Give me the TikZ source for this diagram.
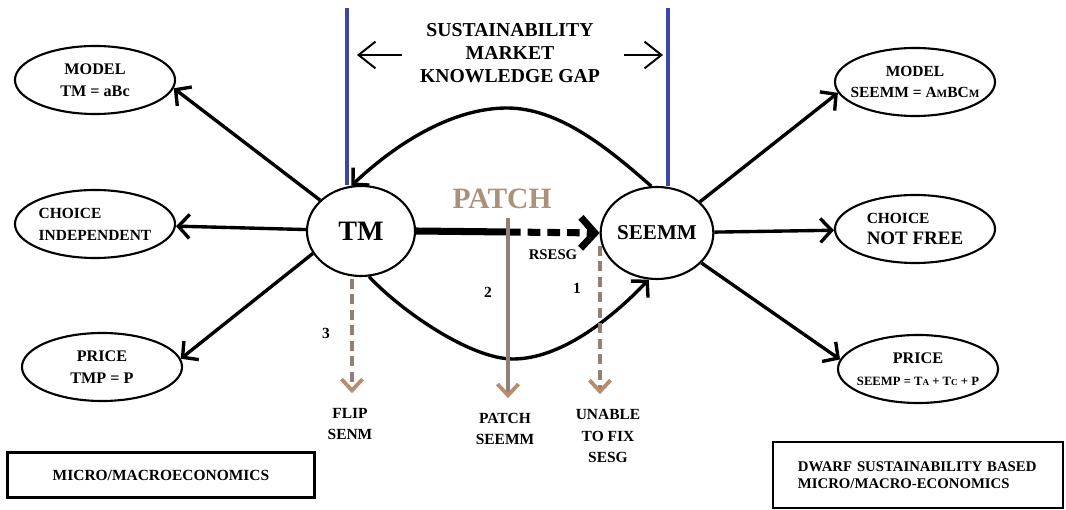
\documentclass[tikz,border=0pt]{standalone}
\usepackage{fontspec}
\setmainfont{Liberation Serif}
\usetikzlibrary{shapes.geometric,arrows.meta}
\definecolor{gapblue}{RGB}{60,70,170}
\definecolor{patchbrown}{RGB}{170,145,122}
\definecolor{linebrown}{RGB}{145,128,118}
\definecolor{tipbrown}{RGB}{185,140,110}
\tikzset{
  oval/.style={draw, ellipse, line width=1.5pt, inner xsep=-8pt, inner ysep=0pt,
    minimum width=4cm, minimum height=1.7cm, align=center,
    font=\bfseries\fontsize{11.5}{15.5}\selectfont},
  hub/.style={draw, ellipse, line width=1.5pt, inner sep=0pt,
    minimum width=2.7cm, minimum height=2.25cm},
  link/.style={line width=2.4pt, -{Straight Barb[length=8pt,width=17pt]}},
  flow/.style={line width=5pt, -{Straight Barb[length=10pt,width=22pt]}},
  probe/.style={linebrown, line width=2.7pt, shorten >=7pt,
    -{Straight Barb[length=8pt,width=15pt,color=tipbrown]}},
  gapline/.style={gapblue, line width=3.5pt},
  gaparrow/.style={line width=1.4pt, -{Straight Barb[length=12pt,width=19pt]}},
  lbl/.style={font=\bfseries\fontsize{11}{15.5}\selectfont, align=center},
  framebox/.style={draw, line width=1.5pt, font=\bfseries\fontsize{10.5}{12.5}\selectfont}
}
\begin{document}
\begin{tikzpicture}[x=0.025cm, y=-0.025cm]
  \useasboundingbox (0,0) rectangle (1066,510);
  % the two models
  \node[hub] (tm) at (361,231) {\bfseries\fontsize{20}{20}\selectfont TM};
  \node[hub, minimum width=2.75cm, minimum height=2.3cm] (seemm) at (657,233)
    {\bfseries\fontsize{15}{15}\selectfont SEEMM};
  % left side
  \node[oval] (tmmodel) at (95,80) {MODEL\\TM = aBc};
  \node[oval, align=left, font=\bfseries\fontsize{11}{15.5}\selectfont] (tmchoice) at (95,224) {CHOICE\\INDEPENDENT};
  \node[oval] (tmprice) at (102,367) {PRICE\\TMP = P};
  % right side
  \node[oval, font=\bfseries\fontsize{11}{15}\selectfont] (smodel) at (915,82)
    {MODEL\\SEEMM = A{\fontsize{8}{8}\selectfont M}BC{\fontsize{8}{8}\selectfont M}};
  \node[oval, align=left] (schoice) at (915,229)
    {{\fontsize{11}{15.5}\selectfont CHOICE}\\{\fontsize{13.5}{15.5}\selectfont NOT FREE}};
  \node[oval] (sprice) at (918,369)
    {PRICE\\{\fontsize{9}{9}\selectfont SEEMP = T{\fontsize{6.5}{6.5}\selectfont A} + T{\fontsize{6.5}{6.5}\selectfont C} + P}};
  \draw[link] (tm.143) -- (tmmodel.-6);
  \draw[link] (tm) -- (tmchoice);
  \draw[link] (tm.205) -- (tmprice.6);
  \draw[link] (seemm.36) -- (smodel.188);
  \draw[link] (seemm) -- (schoice);
  \draw[link] (seemm.-34) -- (sprice.173);
  % gap between the models
  \coordinate (gapl) at (347,8);
  \coordinate (gapr) at (668,8);
  \draw[gapline] (gapl) -- (gapl |- tm.north);
  \draw[gapline] (gapr) -- (gapr |- seemm.north);
  \node[font=\bfseries\fontsize{14}{16.5}\selectfont, align=center] (gap) at (510,53)
    {SUSTAINABILITY\\MARKET\\KNOWLEDGE GAP};
  \coordinate (gapla) at (402,55);
  \coordinate (gaplb) at (357,55);
  \coordinate (gapra) at (624,55);
  \coordinate (gaprb) at (663,55);
  \draw[gaparrow] (gapla) -- (gaplb);
  \draw[gaparrow] (gapra) -- (gaprb);
  \draw[link] (seemm.97) .. controls (610,150) and (560,108) .. (507,108)
    .. controls (455,108) and (400,140) .. (tm.102);
  \draw[link] (tm.-80) .. controls (400,310) and (470,359) .. (513,359)
    .. controls (560,359) and (610,320) .. (seemm.-100);
  % patch
  \coordinate (split) at (508,232);
  \draw[line width=5pt] (tm.east) -- (split);
  \draw[flow, dash pattern=on 9pt off 5pt] (split) -- (seemm.west);
  \node[patchbrown, font=\bfseries\fontsize{21}{21}\selectfont] (patch) at (502,199) {PATCH};
  \node[font=\bfseries\fontsize{10.5}{10.5}\selectfont] (rsesg) at (553,255) {RSESG};
  \node[lbl] (flip) at (350,424) {FLIP\\SENM};
  \node[lbl] (patchlbl) at (505,429) {PATCH\\SEEMM};
  \node[lbl] (unable) at (608,436) {UNABLE\\TO FIX\\SESG};
  \node[lbl] (n3) at (326,333) {3};
  \node[lbl] (n2) at (488,292) {2};
  \node[lbl] (n1) at (577,288) {1};
  \coordinate (p3) at (352,279);
  \coordinate (p2) at (508,218);
  \coordinate (p1) at (600,246);
  \draw[probe, dash pattern=on 7pt off 4pt] (p3) -- (p3 |- flip.north);
  \draw[probe] (p2) -- (p2 |- patchlbl.north);
  \draw[probe, dash pattern=on 7pt off 4pt] (p1) -- (p1 |- unable.north);
  % legends
  \node[framebox, font=\bfseries\fontsize{11}{12.5}\selectfont, minimum width=7.675cm, minimum height=1.125cm] (micro) at (161,475)
    {MICRO/MACROECONOMICS};
  \node[framebox, align=left, text width=6cm, inner xsep=0.625cm, minimum height=1.65cm] (dwarf) at (918,475)
    {DWARF SUSTAINABILITY BASED\\MICRO/MACRO-ECONOMICS};
\end{tikzpicture}
\end{document}
